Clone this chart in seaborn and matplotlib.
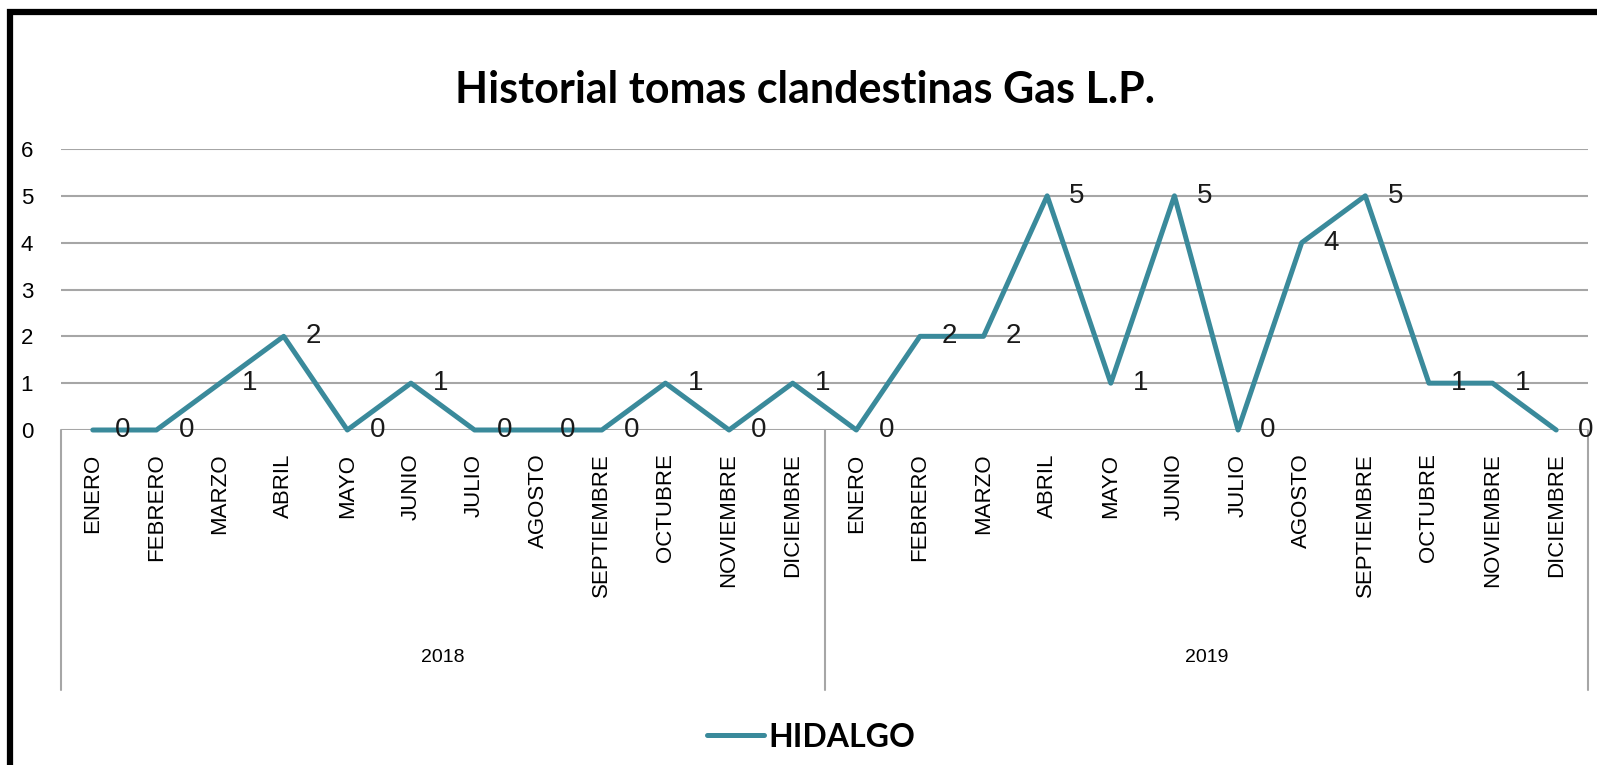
import pandas as pd
import numpy as np
import seaborn as sns
import matplotlib.pyplot as plt
from matplotlib.lines import Line2D
from matplotlib.patches import Rectangle
import matplotlib.transforms as mtransforms

# data
months = ['ENERO', 'FEBRERO', 'MARZO', 'ABRIL', 'MAYO', 'JUNIO', 'JULIO',
          'AGOSTO', 'SEPTIEMBRE', 'OCTUBRE', 'NOVIEMBRE', 'DICIEMBRE']
years = ['2018', '2019']
tomas_2018 = [0, 0, 1, 2, 0, 1, 0, 0, 0, 1, 0, 1]
tomas_2019 = [0, 2, 2, 5, 1, 5, 0, 4, 5, 1, 1, 0]
series_name = 'HIDALGO'
title = 'Historial tomas clandestinas Gas L.P.'

df = pd.DataFrame({
    'mes': months * 2,
    'anio': [years[0]] * 12 + [years[1]] * 12,
    'tomas': tomas_2018 + tomas_2019,
})
df['pos'] = np.arange(len(df))

W, H = 1597, 765
line_color = '#3a8a9b'
grid_color = '#a6a6a6'

sns.set_style('white')
plt.rcParams['font.family'] = ['Liberation Sans', 'DejaVu Sans']
plt.rcParams['text.color'] = 'black'
plt.rcParams['xtick.color'] = 'black'
plt.rcParams['ytick.color'] = 'black'

fig = plt.figure(figsize=(W / 100, H / 100), dpi=100)
ax = fig.add_axes([61 / W, 1 - 430 / H, (1588 - 61) / W, (430 - 149) / H])

sns.lineplot(data=df, x='pos', y='tomas', ax=ax, color=line_color,
             linewidth=3.6, legend=False, clip_on=False, zorder=3)

ax.set_xlim(-0.5, len(df) - 0.5)
ax.set_ylim(0, 6)
ax.set_yticks(range(0, 7))
ax.yaxis.grid(True, color=grid_color, linewidth=1.5)
ax.set_axisbelow(True)
for s in ax.spines.values():
    s.set_visible(False)

ax.set_xticks(df['pos'])
ax.set_xticklabels(df['mes'], rotation=90, fontsize=16, va='top', ha='center')
ax.tick_params(axis='x', length=0, pad=17)
ax.tick_params(axis='y', length=0, pad=20, labelsize=16)
ax.set_xlabel('')
ax.set_ylabel('')

# data labels to the right of each point
for p, v in zip(df['pos'], df['tomas']):
    ax.annotate(str(v), (p, v), xytext=(21.5, 0), textcoords='offset points',
                ha='center', va='center', fontsize=20, color='#1a1a1a',
                annotation_clip=False, zorder=4)

# category group separators and year labels
trans = mtransforms.blended_transform_factory(ax.transData, ax.transAxes)
low = -(690 - 430) / (430 - 149)
for xb in [-0.5, 11.5, 23.5]:
    ax.plot([xb, xb], [0, low], color=grid_color, linewidth=1.5,
            transform=trans, clip_on=False)
for yr in years:
    mid = df.loc[df['anio'] == yr, 'pos'].mean()
    ax.text(mid, -(658 - 430) / (430 - 149), yr, transform=trans,
            ha='center', va='center', fontsize=14, color='black')

# title
fig.text(805 / W, 1 - 103 / H, title, ha='center', va='baseline',
         fontsize=31, fontweight='bold', color='black',
         family=['Lato', 'DejaVu Sans'])

# legend
fig.add_artist(Line2D([707 / W, 764 / W], [1 - 735 / H] * 2, color=line_color,
                      linewidth=3.6, solid_capstyle='round'))
fig.text(768 / W, 1 - 747 / H, series_name, ha='left', va='baseline',
         fontsize=23, fontweight='bold', color='black',
         family=['Lato', 'DejaVu Sans'])

# outer frame (runs off the right and bottom edges)
fig.add_artist(Rectangle((10 / W, -0.1), 1.2, 1 - 12 / H + 0.1,
                         transform=fig.transFigure, fill=False,
                         edgecolor='black', linewidth=4.5, clip_on=False))

fig.savefig('out.png', dpi=100)
